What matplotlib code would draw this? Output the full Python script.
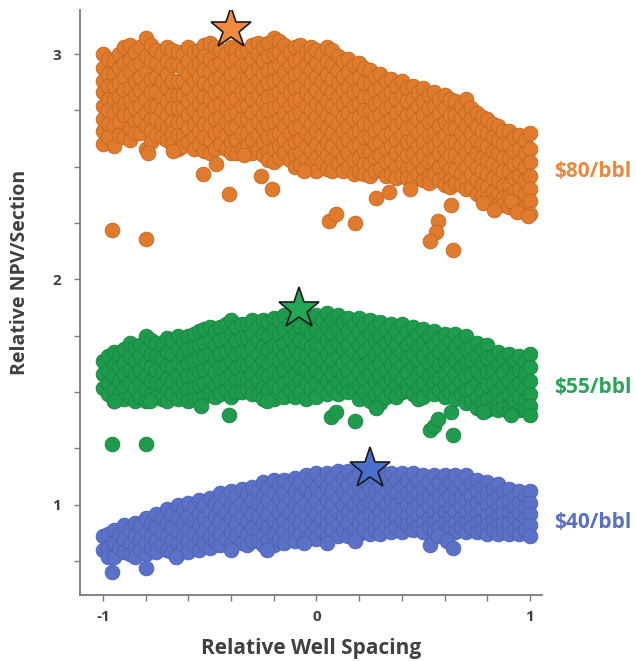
import matplotlib
matplotlib.use("Agg")
import matplotlib.pyplot as plt
from matplotlib.ticker import MultipleLocator

# Each row: relative well spacing, then the NPV values of the runs at that spacing
p80_cols = [
    [-1.00, 3.00, 2.94, 2.88, 2.83, 2.77, 2.71, 2.66, 2.60],
    [-0.975, 2.98, 2.91, 2.86, 2.80, 2.75, 2.69, 2.63],
    [-0.95, 2.97, 2.91, 2.86, 2.80, 2.74, 2.68, 2.59],
    [-0.925, 3.00, 2.94, 2.87, 2.81, 2.76, 2.70, 2.64],
    [-0.90, 3.03, 2.96, 2.90, 2.84, 2.78, 2.73, 2.63],
    [-0.875, 3.04, 2.98, 2.92, 2.85, 2.79, 2.73, 2.67, 2.62],
    [-0.85, 3.01, 2.95, 2.88, 2.82, 2.76, 2.70, 2.65],
    [-0.825, 3.03, 2.96, 2.90, 2.84, 2.77, 2.71, 2.65],
    [-0.80, 3.07, 2.99, 2.92, 2.86, 2.80, 2.74, 2.68, 2.58],
    [-0.775, 3.04, 2.97, 2.89, 2.83, 2.77, 2.71, 2.66, 2.61],
    [-0.75, 3.02, 2.96, 2.90, 2.83, 2.77, 2.71, 2.64],
    [-0.725, 3.00, 2.94, 2.88, 2.81, 2.75, 2.69, 2.63],
    [-0.70, 3.03, 2.97, 2.91, 2.85, 2.79, 2.73, 2.67, 2.62],
    [-0.675, 3.02, 2.95, 2.88, 2.82, 2.76, 2.70, 2.65, 2.60],
    [-0.65, 3.01, 2.95, 2.88, 2.82, 2.76, 2.70, 2.64, 2.58],
    [-0.625, 3.00, 2.94, 2.88, 2.82, 2.76, 2.70, 2.64, 2.59],
    [-0.60, 3.03, 2.97, 2.91, 2.85, 2.79, 2.73, 2.67, 2.61],
    [-0.575, 3.01, 2.94, 2.88, 2.81, 2.75, 2.69, 2.63, 2.58],
    [-0.55, 3.02, 2.96, 2.90, 2.84, 2.78, 2.72, 2.66, 2.60],
    [-0.525, 3.04, 2.99, 2.93, 2.87, 2.81, 2.75, 2.69, 2.63, 2.57],
    [-0.50, 3.05, 2.98, 2.92, 2.86, 2.80, 2.74, 2.68, 2.62, 2.56],
    [-0.475, 3.03, 2.95, 2.89, 2.83, 2.77, 2.71, 2.65, 2.58],
    [-0.45, 3.02, 2.96, 2.90, 2.84, 2.78, 2.72, 2.66, 2.60],
    [-0.425, 3.00, 2.94, 2.88, 2.82, 2.76, 2.70, 2.64, 2.58],
    [-0.40, 3.03, 2.97, 2.91, 2.85, 2.79, 2.73, 2.67, 2.61, 2.56],
    [-0.375, 3.02, 2.98, 2.92, 2.86, 2.80, 2.74, 2.68, 2.62, 2.56],
    [-0.35, 3.01, 2.95, 2.89, 2.83, 2.77, 2.71, 2.65, 2.58],
    [-0.325, 3.02, 2.95, 2.89, 2.83, 2.77, 2.71, 2.65, 2.59],
    [-0.30, 3.04, 2.98, 2.92, 2.86, 2.80, 2.74, 2.68, 2.62, 2.56],
    [-0.275, 3.05, 3.00, 2.94, 2.88, 2.82, 2.76, 2.70, 2.64, 2.58],
    [-0.25, 3.03, 2.97, 2.91, 2.85, 2.79, 2.73, 2.67, 2.61, 2.55],
    [-0.225, 3.05, 2.99, 2.93, 2.87, 2.81, 2.75, 2.69, 2.63, 2.57, 2.53],
    [-0.20, 3.07, 3.00, 2.94, 2.88, 2.82, 2.76, 2.70, 2.64, 2.58, 2.52],
    [-0.175, 3.06, 3.01, 2.95, 2.89, 2.83, 2.77, 2.71, 2.65, 2.59, 2.54],
    [-0.15, 3.04, 2.98, 2.92, 2.86, 2.80, 2.74, 2.68, 2.62, 2.56],
    [-0.125, 3.01, 2.95, 2.89, 2.83, 2.77, 2.71, 2.65, 2.59, 2.53],
    [-0.10, 3.03, 2.97, 2.91, 2.85, 2.79, 2.73, 2.67, 2.61, 2.55, 2.50],
    [-0.075, 3.04, 2.98, 2.92, 2.86, 2.80, 2.74, 2.68, 2.62, 2.56, 2.51],
    [-0.05, 3.01, 2.95, 2.89, 2.83, 2.77, 2.71, 2.65, 2.59, 2.53],
    [-0.025, 3.03, 2.99, 2.93, 2.87, 2.81, 2.75, 2.69, 2.63, 2.57, 2.51],
    [0.00, 3.02, 2.96, 2.90, 2.84, 2.78, 2.72, 2.66, 2.60, 2.54, 2.48],
    [0.025, 3.00, 2.94, 2.88, 2.82, 2.76, 2.70, 2.64, 2.58, 2.52],
    [0.05, 3.03, 2.97, 2.91, 2.85, 2.79, 2.73, 2.67, 2.61, 2.55, 2.49],
    [0.075, 3.02, 2.95, 2.89, 2.83, 2.77, 2.71, 2.65, 2.59, 2.53, 2.48],
    [0.10, 2.99, 2.93, 2.87, 2.81, 2.75, 2.69, 2.63, 2.57, 2.51],
    [0.125, 2.97, 2.90, 2.84, 2.78, 2.72, 2.66, 2.60, 2.54, 2.48],
    [0.15, 2.98, 2.92, 2.86, 2.80, 2.74, 2.68, 2.62, 2.56, 2.50],
    [0.175, 2.95, 2.89, 2.83, 2.77, 2.71, 2.65, 2.59, 2.53, 2.47],
    [0.20, 2.96, 2.90, 2.84, 2.78, 2.72, 2.66, 2.60, 2.54, 2.48],
    [0.225, 2.94, 2.87, 2.81, 2.75, 2.69, 2.63, 2.57, 2.51, 2.47],
    [0.25, 2.93, 2.87, 2.81, 2.75, 2.69, 2.63, 2.57, 2.51, 2.46],
    [0.275, 2.90, 2.84, 2.78, 2.72, 2.66, 2.60, 2.54, 2.48],
    [0.30, 2.91, 2.85, 2.79, 2.73, 2.67, 2.61, 2.55, 2.49],
    [0.325, 2.88, 2.82, 2.76, 2.70, 2.64, 2.58, 2.52, 2.46],
    [0.35, 2.89, 2.83, 2.77, 2.71, 2.65, 2.59, 2.53, 2.47],
    [0.375, 2.86, 2.80, 2.74, 2.68, 2.62, 2.56, 2.50, 2.45],
    [0.40, 2.88, 2.82, 2.76, 2.70, 2.64, 2.58, 2.52, 2.46],
    [0.425, 2.85, 2.79, 2.73, 2.67, 2.61, 2.55, 2.49, 2.45],
    [0.45, 2.86, 2.80, 2.74, 2.68, 2.62, 2.56, 2.50, 2.44],
    [0.475, 2.83, 2.77, 2.71, 2.65, 2.59, 2.53, 2.47],
    [0.50, 2.85, 2.79, 2.73, 2.67, 2.61, 2.55, 2.49, 2.44],
    [0.525, 2.82, 2.76, 2.70, 2.64, 2.58, 2.52, 2.46, 2.43],
    [0.55, 2.83, 2.77, 2.71, 2.65, 2.59, 2.53, 2.47],
    [0.575, 2.80, 2.74, 2.68, 2.62, 2.56, 2.50, 2.44],
    [0.60, 2.82, 2.76, 2.70, 2.64, 2.58, 2.52, 2.46, 2.42],
    [0.625, 2.80, 2.73, 2.67, 2.61, 2.55, 2.49, 2.44, 2.41],
    [0.65, 2.79, 2.73, 2.67, 2.61, 2.55, 2.49, 2.43],
    [0.675, 2.77, 2.71, 2.65, 2.59, 2.53, 2.47, 2.42],
    [0.70, 2.80, 2.74, 2.68, 2.62, 2.56, 2.50, 2.44, 2.40],
    [0.725, 2.76, 2.71, 2.65, 2.59, 2.53, 2.47, 2.41],
    [0.75, 2.74, 2.68, 2.62, 2.56, 2.50, 2.44, 2.38],
    [0.775, 2.72, 2.66, 2.60, 2.54, 2.48, 2.42, 2.37],
    [0.80, 2.71, 2.65, 2.59, 2.53, 2.47, 2.41, 2.36],
    [0.825, 2.69, 2.63, 2.57, 2.51, 2.45, 2.39, 2.35],
    [0.85, 2.68, 2.62, 2.56, 2.50, 2.44, 2.38, 2.33],
    [0.875, 2.66, 2.60, 2.54, 2.48, 2.42, 2.36, 2.33],
    [0.90, 2.66, 2.60, 2.54, 2.48, 2.42, 2.37, 2.32],
    [0.925, 2.63, 2.57, 2.51, 2.45, 2.39, 2.33],
    [0.95, 2.64, 2.58, 2.52, 2.46, 2.40, 2.34],
    [0.975, 2.62, 2.56, 2.50, 2.44, 2.38, 2.32],
    [1.00, 2.65, 2.58, 2.52, 2.46, 2.40, 2.35, 2.29],
]
p80_extra = [
    (-0.96, 2.22), (-0.80, 2.18), (-0.79, 2.56), (-0.67, 2.57), (-0.53, 2.47),
    (-0.47, 2.51), (-0.41, 2.38), (-0.34, 2.55), (-0.26, 2.46), (-0.21, 2.40),
    (-0.06, 2.48), (0.28, 2.36), (0.34, 2.39), (0.44, 2.40), (0.06, 2.26),
    (0.09, 2.29), (0.18, 2.25), (0.63, 2.33), (0.57, 2.26), (0.56, 2.21),
    (0.53, 2.17), (0.64, 2.13), (0.78, 2.34), (0.83, 2.31), (0.91, 2.35),
    (0.94, 2.30), (0.99, 2.28),
]

p55_cols = [
    [-1.00, 1.64, 1.58, 1.52],
    [-0.975, 1.66, 1.60, 1.54, 1.49],
    [-0.95, 1.68, 1.62, 1.57, 1.51, 1.46],
    [-0.925, 1.67, 1.61, 1.55, 1.49],
    [-0.90, 1.69, 1.63, 1.58, 1.52, 1.47],
    [-0.875, 1.72, 1.66, 1.60, 1.54, 1.48],
    [-0.85, 1.70, 1.64, 1.58, 1.52, 1.46],
    [-0.825, 1.71, 1.66, 1.60, 1.54, 1.48],
    [-0.80, 1.75, 1.69, 1.63, 1.57, 1.51, 1.46],
    [-0.775, 1.73, 1.67, 1.61, 1.55, 1.49],
    [-0.75, 1.72, 1.66, 1.60, 1.54, 1.48],
    [-0.725, 1.71, 1.65, 1.59, 1.53, 1.47],
    [-0.70, 1.74, 1.68, 1.62, 1.56, 1.51, 1.46],
    [-0.675, 1.73, 1.67, 1.61, 1.55, 1.49],
    [-0.65, 1.75, 1.69, 1.63, 1.57, 1.52, 1.47],
    [-0.625, 1.73, 1.67, 1.61, 1.55, 1.49],
    [-0.60, 1.75, 1.69, 1.63, 1.57, 1.51, 1.46],
    [-0.575, 1.76, 1.70, 1.64, 1.58, 1.52, 1.47],
    [-0.55, 1.77, 1.71, 1.65, 1.59, 1.53, 1.47],
    [-0.525, 1.78, 1.72, 1.66, 1.60, 1.54, 1.48],
    [-0.50, 1.79, 1.73, 1.67, 1.61, 1.55, 1.50],
    [-0.475, 1.77, 1.71, 1.65, 1.59, 1.53, 1.48],
    [-0.45, 1.79, 1.73, 1.67, 1.61, 1.55, 1.49],
    [-0.425, 1.80, 1.74, 1.68, 1.62, 1.56, 1.51],
    [-0.40, 1.82, 1.76, 1.70, 1.64, 1.58, 1.53, 1.48],
    [-0.375, 1.79, 1.73, 1.67, 1.61, 1.55, 1.50],
    [-0.35, 1.80, 1.74, 1.68, 1.62, 1.56, 1.50],
    [-0.325, 1.80, 1.74, 1.68, 1.62, 1.56, 1.51],
    [-0.30, 1.82, 1.76, 1.70, 1.64, 1.58, 1.53, 1.49],
    [-0.275, 1.79, 1.73, 1.67, 1.61, 1.55, 1.49],
    [-0.25, 1.82, 1.76, 1.70, 1.64, 1.58, 1.52, 1.47],
    [-0.225, 1.81, 1.75, 1.69, 1.63, 1.57, 1.51],
    [-0.20, 1.83, 1.77, 1.71, 1.65, 1.59, 1.53, 1.47],
    [-0.175, 1.82, 1.76, 1.70, 1.64, 1.58, 1.52],
    [-0.15, 1.84, 1.78, 1.72, 1.66, 1.60, 1.54, 1.48],
    [-0.125, 1.80, 1.74, 1.68, 1.62, 1.56, 1.51],
    [-0.10, 1.82, 1.76, 1.70, 1.64, 1.58, 1.53, 1.48],
    [-0.075, 1.79, 1.73, 1.67, 1.61, 1.55, 1.50],
    [-0.05, 1.84, 1.78, 1.72, 1.66, 1.60, 1.54, 1.47],
    [-0.025, 1.82, 1.76, 1.70, 1.64, 1.58, 1.52],
    [0.00, 1.84, 1.78, 1.72, 1.66, 1.60, 1.54, 1.48],
    [0.025, 1.82, 1.76, 1.70, 1.64, 1.58, 1.52],
    [0.05, 1.85, 1.79, 1.73, 1.67, 1.61, 1.55, 1.49],
    [0.075, 1.82, 1.76, 1.70, 1.64, 1.58, 1.52],
    [0.10, 1.84, 1.78, 1.72, 1.66, 1.60, 1.54, 1.49],
    [0.125, 1.81, 1.75, 1.69, 1.63, 1.57, 1.52],
    [0.15, 1.83, 1.77, 1.71, 1.65, 1.59, 1.54, 1.50],
    [0.175, 1.80, 1.74, 1.68, 1.62, 1.56, 1.51],
    [0.20, 1.83, 1.77, 1.71, 1.65, 1.59, 1.53, 1.47],
    [0.225, 1.80, 1.74, 1.68, 1.62, 1.56, 1.50],
    [0.25, 1.82, 1.76, 1.70, 1.64, 1.58, 1.52, 1.46],
    [0.275, 1.79, 1.73, 1.67, 1.61, 1.55, 1.49],
    [0.30, 1.81, 1.75, 1.69, 1.63, 1.57, 1.51, 1.45],
    [0.325, 1.78, 1.72, 1.66, 1.60, 1.54, 1.48],
    [0.35, 1.80, 1.74, 1.68, 1.62, 1.56, 1.50],
    [0.375, 1.77, 1.71, 1.65, 1.59, 1.53, 1.48],
    [0.40, 1.80, 1.74, 1.68, 1.62, 1.56, 1.50],
    [0.425, 1.77, 1.71, 1.65, 1.59, 1.53, 1.51],
    [0.45, 1.79, 1.73, 1.67, 1.61, 1.55, 1.49],
    [0.475, 1.76, 1.70, 1.64, 1.58, 1.52, 1.47],
    [0.50, 1.78, 1.72, 1.66, 1.60, 1.54, 1.48],
    [0.525, 1.75, 1.69, 1.63, 1.57, 1.51],
    [0.55, 1.77, 1.71, 1.65, 1.59, 1.54, 1.49],
    [0.575, 1.74, 1.68, 1.62, 1.56, 1.51],
    [0.60, 1.76, 1.70, 1.64, 1.58, 1.53, 1.48],
    [0.625, 1.73, 1.67, 1.61, 1.55, 1.50],
    [0.65, 1.76, 1.70, 1.64, 1.58, 1.52, 1.47],
    [0.675, 1.73, 1.67, 1.61, 1.55, 1.49],
    [0.70, 1.75, 1.69, 1.63, 1.57, 1.51, 1.45],
    [0.725, 1.70, 1.64, 1.58, 1.52, 1.46],
    [0.75, 1.72, 1.66, 1.60, 1.54, 1.48, 1.43],
    [0.775, 1.69, 1.63, 1.57, 1.51, 1.45],
    [0.80, 1.71, 1.65, 1.59, 1.53, 1.47, 1.42],
    [0.825, 1.66, 1.60, 1.54, 1.48, 1.43],
    [0.85, 1.68, 1.62, 1.56, 1.50, 1.45, 1.42],
    [0.875, 1.65, 1.59, 1.53, 1.47, 1.43],
    [0.90, 1.67, 1.61, 1.55, 1.49, 1.44, 1.41],
    [0.925, 1.64, 1.58, 1.52, 1.46],
    [0.95, 1.66, 1.60, 1.54, 1.48, 1.42],
    [0.975, 1.64, 1.58, 1.52, 1.46, 1.42],
    [1.00, 1.67, 1.61, 1.55, 1.49, 1.44, 1.40],
]
p55_extra = [
    (-0.96, 1.27), (-0.80, 1.27), (-0.41, 1.40), (-0.95, 1.46), (-0.78, 1.46),
    (-0.54, 1.44), (-0.23, 1.46), (0.07, 1.39), (0.09, 1.41), (0.18, 1.37),
    (0.28, 1.43), (0.53, 1.33), (0.55, 1.35), (0.57, 1.38), (0.63, 1.41),
    (0.64, 1.31), (0.78, 1.41), (0.91, 1.40),
]

p40_cols = [
    [-1.00, 0.86, 0.80],
    [-0.975, 0.87, 0.81, 0.77],
    [-0.95, 0.89, 0.83, 0.77],
    [-0.925, 0.87, 0.81],
    [-0.90, 0.91, 0.85, 0.79],
    [-0.875, 0.89, 0.83, 0.78],
    [-0.85, 0.92, 0.86, 0.81, 0.77],
    [-0.825, 0.91, 0.85, 0.80],
    [-0.80, 0.94, 0.88, 0.83, 0.78],
    [-0.775, 0.92, 0.86, 0.81],
    [-0.75, 0.96, 0.90, 0.84, 0.79],
    [-0.725, 0.94, 0.88, 0.82],
    [-0.70, 0.98, 0.92, 0.86, 0.80],
    [-0.675, 0.96, 0.90, 0.84, 0.79],
    [-0.65, 1.00, 0.94, 0.88, 0.83, 0.78],
    [-0.625, 0.98, 0.92, 0.86, 0.81],
    [-0.60, 1.01, 0.95, 0.89, 0.84, 0.79],
    [-0.575, 0.99, 0.93, 0.87, 0.82],
    [-0.55, 1.02, 0.96, 0.91, 0.85, 0.80],
    [-0.525, 1.00, 0.94, 0.88, 0.83],
    [-0.50, 1.03, 0.97, 0.92, 0.86, 0.81],
    [-0.475, 1.01, 0.95, 0.89, 0.84],
    [-0.45, 1.05, 0.99, 0.93, 0.87, 0.82],
    [-0.425, 1.03, 0.97, 0.91, 0.85],
    [-0.40, 1.06, 1.00, 0.94, 0.88, 0.82],
    [-0.375, 1.04, 0.98, 0.92, 0.86],
    [-0.35, 1.07, 1.01, 0.95, 0.89, 0.83],
    [-0.325, 1.05, 0.99, 0.93, 0.87, 0.82],
    [-0.30, 1.08, 1.02, 0.96, 0.90, 0.84],
    [-0.275, 1.06, 1.01, 0.95, 0.89, 0.84],
    [-0.25, 1.10, 1.04, 0.98, 0.92, 0.86, 0.82],
    [-0.225, 1.08, 1.02, 0.96, 0.90, 0.84],
    [-0.20, 1.11, 1.05, 0.99, 0.93, 0.87, 0.82],
    [-0.175, 1.09, 1.03, 0.97, 0.91, 0.85],
    [-0.15, 1.11, 1.05, 0.99, 0.93, 0.88, 0.83],
    [-0.125, 1.09, 1.03, 0.97, 0.91, 0.86],
    [-0.10, 1.12, 1.06, 1.00, 0.94, 0.89, 0.84],
    [-0.075, 1.10, 1.04, 0.98, 0.92, 0.87],
    [-0.05, 1.13, 1.07, 1.01, 0.95, 0.90, 0.85],
    [-0.025, 1.11, 1.05, 0.99, 0.93, 0.87],
    [0.00, 1.14, 1.08, 1.02, 0.96, 0.90, 0.85],
    [0.025, 1.11, 1.05, 0.99, 0.94, 0.88],
    [0.05, 1.14, 1.08, 1.02, 0.96, 0.91, 0.86],
    [0.075, 1.12, 1.06, 1.00, 0.94, 0.89],
    [0.10, 1.15, 1.09, 1.03, 0.97, 0.91, 0.86],
    [0.125, 1.12, 1.06, 1.00, 0.95, 0.89],
    [0.15, 1.15, 1.09, 1.03, 0.97, 0.92, 0.86],
    [0.175, 1.12, 1.06, 1.00, 0.95, 0.89],
    [0.20, 1.14, 1.08, 1.02, 0.97, 0.92, 0.87],
    [0.225, 1.11, 1.05, 0.99, 0.94, 0.89],
    [0.25, 1.13, 1.07, 1.01, 0.96, 0.91, 0.87],
    [0.275, 1.12, 1.06, 1.00, 0.94, 0.89],
    [0.30, 1.15, 1.09, 1.03, 0.97, 0.92, 0.87],
    [0.325, 1.12, 1.06, 1.00, 0.95, 0.90],
    [0.35, 1.14, 1.08, 1.02, 0.97, 0.92, 0.88],
    [0.375, 1.11, 1.05, 1.00, 0.95, 0.90],
    [0.40, 1.14, 1.08, 1.03, 0.98, 0.93, 0.88],
    [0.425, 1.11, 1.05, 1.00, 0.95, 0.91],
    [0.45, 1.14, 1.08, 1.03, 0.98, 0.93, 0.89],
    [0.475, 1.11, 1.05, 1.00, 0.95, 0.90],
    [0.50, 1.13, 1.07, 1.02, 0.97, 0.92, 0.88],
    [0.525, 1.10, 1.04, 0.99, 0.94, 0.90],
    [0.55, 1.13, 1.07, 1.02, 0.97, 0.92, 0.88],
    [0.575, 1.10, 1.04, 0.99, 0.94, 0.90],
    [0.60, 1.13, 1.07, 1.02, 0.97, 0.92, 0.88],
    [0.625, 1.10, 1.04, 0.99, 0.94, 0.90],
    [0.65, 1.13, 1.07, 1.02, 0.97, 0.92, 0.88],
    [0.675, 1.10, 1.04, 0.99, 0.94, 0.90],
    [0.70, 1.13, 1.07, 1.02, 0.97, 0.92, 0.88],
    [0.725, 1.09, 1.04, 0.99, 0.94, 0.90],
    [0.75, 1.11, 1.06, 1.01, 0.96, 0.92, 0.88],
    [0.775, 1.08, 1.03, 0.98, 0.93, 0.89],
    [0.80, 1.10, 1.05, 1.00, 0.95, 0.91, 0.87],
    [0.825, 1.07, 1.02, 0.97, 0.93, 0.89],
    [0.85, 1.09, 1.04, 0.99, 0.95, 0.91, 0.87],
    [0.875, 1.06, 1.01, 0.96, 0.92, 0.88],
    [0.90, 1.07, 1.02, 0.97, 0.92, 0.87],
    [0.925, 1.04, 0.99, 0.94, 0.89],
    [0.95, 1.06, 1.01, 0.96, 0.91, 0.87],
    [0.975, 1.04, 0.99, 0.94, 0.89],
    [1.00, 1.06, 1.01, 0.96, 0.91, 0.86],
]
p40_extra = [
    (-0.96, 0.70), (-0.80, 0.72), (-0.66, 0.77), (-0.40, 0.80), (-0.23, 0.80),
    (-0.06, 0.83), (0.05, 0.83), (0.18, 0.84), (0.53, 0.82), (0.57, 0.86),
    (0.61, 0.84), (0.64, 0.81),
]

# best spacing for each price case
star_x = [-0.40, -0.08, 0.25]
star_y = [3.11, 1.87, 1.16]

prices = ["$80/bbl", "$55/bbl", "$40/bbl"]
fills = ["#E07B2E", "#1F9B4E", "#5B71C7"]
edges = ["#C2671F", "#1A8443", "#4C60B4"]
star_fills = ["#F08A3C", "#23A955", "#4C6FCC"]
text_colors = ["#E8893D", "#2AA45A", "#5A6FC2"]
label_y = [2.48, 1.52, 0.92]


def unpack(cols, extra):
    xs, ys = [], []
    for col in cols:
        for y in col[1:]:
            xs.append(col[0])
            ys.append(y)
    for x, y in extra:
        xs.append(x)
        ys.append(y)
    return xs, ys


series = [unpack(p80_cols, p80_extra), unpack(p55_cols, p55_extra), unpack(p40_cols, p40_extra)]

plt.rcParams["font.family"] = ["Open Sans", "DejaVu Sans"]
plt.rcParams["axes.unicode_minus"] = False

fig = plt.figure(figsize=(6.36, 6.61), dpi=100)
ax = fig.add_axes([0.126, 0.100, 0.726, 0.885])

for i, (xs, ys) in enumerate(series):
    ax.scatter(xs, ys, s=112, color=fills[i], edgecolors=edges[i], linewidths=0.6, zorder=2)
    ax.plot(star_x[i], star_y[i], marker="*", markersize=31, markerfacecolor=star_fills[i],
            markeredgecolor="#1a1a1a", markeredgewidth=1.2, zorder=3)
    ax.text(1.115, label_y[i], prices[i], color=text_colors[i], fontsize=15, fontweight="bold",
            va="center", ha="left", clip_on=False)

ax.set_xlim(-1.107, 1.056)
ax.set_ylim(0.6, 3.196)
ax.xaxis.set_major_locator(MultipleLocator(1))
ax.xaxis.set_minor_locator(MultipleLocator(0.2))
ax.yaxis.set_major_locator(MultipleLocator(1))
ax.yaxis.set_minor_locator(MultipleLocator(0.25))

for side in ["top", "right"]:
    ax.spines[side].set_visible(False)
for side in ["left", "bottom"]:
    ax.spines[side].set_color("#7a7a7a")
    ax.spines[side].set_linewidth(1.3)

ax.tick_params(which="both", direction="out", length=4, width=1, color="#7a7a7a")
ax.tick_params(axis="x", which="major", labelsize=11, labelcolor="#404040", pad=7)
ax.tick_params(axis="y", which="major", labelsize=11, labelcolor="#404040", pad=10)
for lab in ax.get_xticklabels() + ax.get_yticklabels():
    lab.set_fontweight("bold")

ax.set_xlabel("Relative Well Spacing", fontsize=15, fontweight="bold", color="#404040", labelpad=10)
ax.set_ylabel("Relative NPV/Section", fontsize=14, fontweight="bold", color="#404040",
              labelpad=16, y=0.552)

fig.savefig("out.png", dpi=100)
